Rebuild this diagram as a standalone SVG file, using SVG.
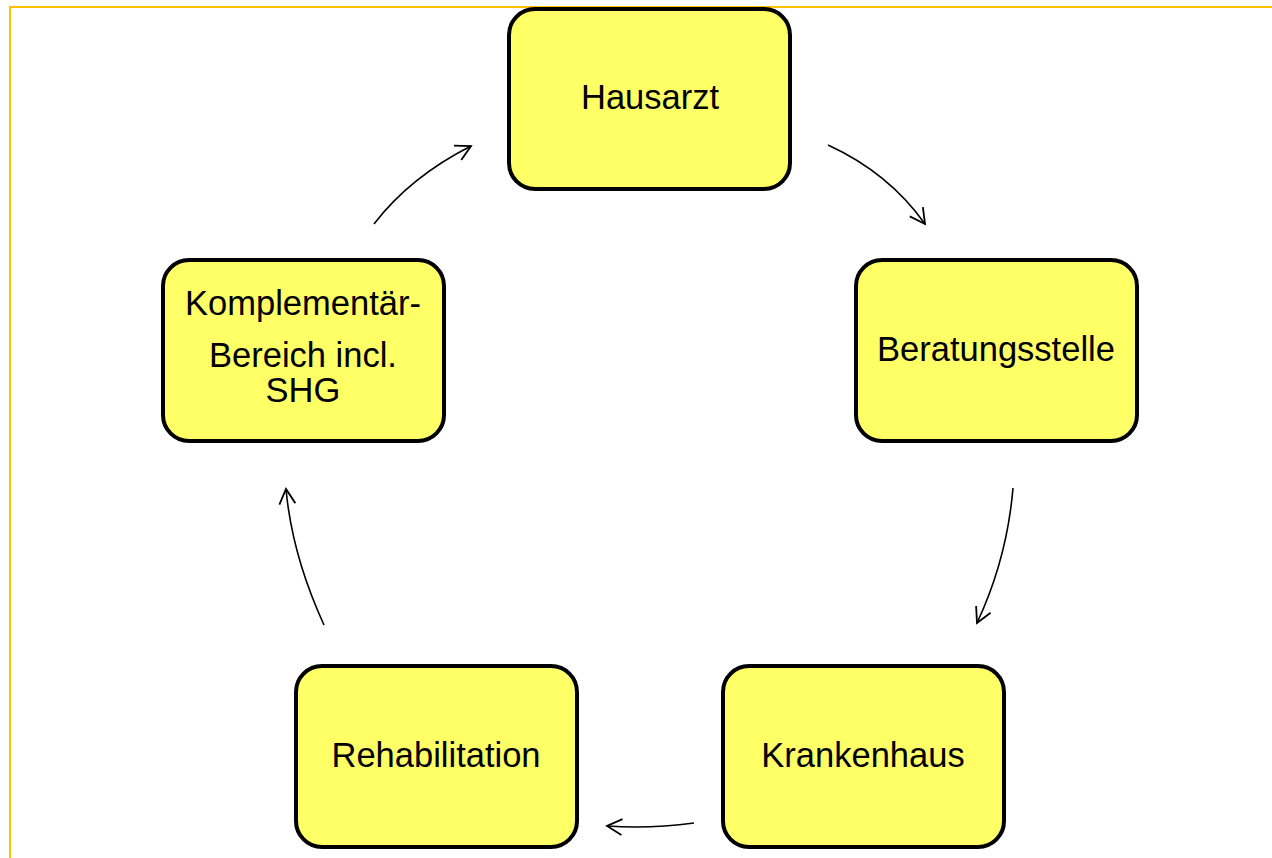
<svg xmlns="http://www.w3.org/2000/svg" width="1272" height="858" viewBox="0 0 1272 858">
<style>
.box{fill:#FFFF66;stroke:#000;stroke-width:4}
.lbl{font-family:"Liberation Sans",Arial,sans-serif;font-size:34.5px;fill:#000;text-anchor:middle}
.conn{fill:none;stroke:#000;stroke-width:1.6}
</style>
<defs>
<marker id="arr" viewBox="-16 -9 18 18" refX="0" refY="0" markerWidth="18" markerHeight="18" markerUnits="userSpaceOnUse" orient="auto">
<path d="M-15,-8 L0,0 L-15,8" fill="none" stroke="#000" stroke-width="1.8"/>
</marker>
</defs>
<rect width="1272" height="858" fill="#fff"/>
<path d="M10,858 V7 H1272" fill="none" stroke="#FFC000" stroke-width="2"/>
<g id="n-hausarzt"><rect class="box" x="509" y="9" width="281" height="180" rx="26"/><text class="lbl" x="650" y="109">Hausarzt</text></g>
<g id="n-beratung"><rect class="box" x="856" y="260" width="281" height="181" rx="26"/><text class="lbl" x="996" y="361">Beratungsstelle</text></g>
<g id="n-kranken"><rect class="box" x="723" y="666" width="281" height="181" rx="26"/><text class="lbl" x="863" y="767">Krankenhaus</text></g>
<g id="n-reha"><rect class="box" x="296" y="666" width="281" height="181" rx="26"/><text class="lbl" x="436" y="767">Rehabilitation</text></g>
<g id="n-komp"><rect class="box" x="163" y="260" width="281" height="181" rx="26"/><text class="lbl" x="303" y="315">Komplementär-</text><text class="lbl" x="303" y="367">Bereich incl.</text><text class="lbl" x="303" y="402">SHG</text></g>
<g id="connectors">
<path class="conn" marker-end="url(#arr)" d="M374,224 Q410,177 471,146"/>
<path class="conn" marker-end="url(#arr)" d="M828,145 Q889,173 925,224"/>
<path class="conn" marker-end="url(#arr)" d="M1013,488 Q1007,559 977,623"/>
<path class="conn" marker-end="url(#arr)" d="M694,823 Q650,829 607,826"/>
<path class="conn" marker-end="url(#arr)" d="M324,625 Q292,555 286,489"/>
</g>
</svg>
